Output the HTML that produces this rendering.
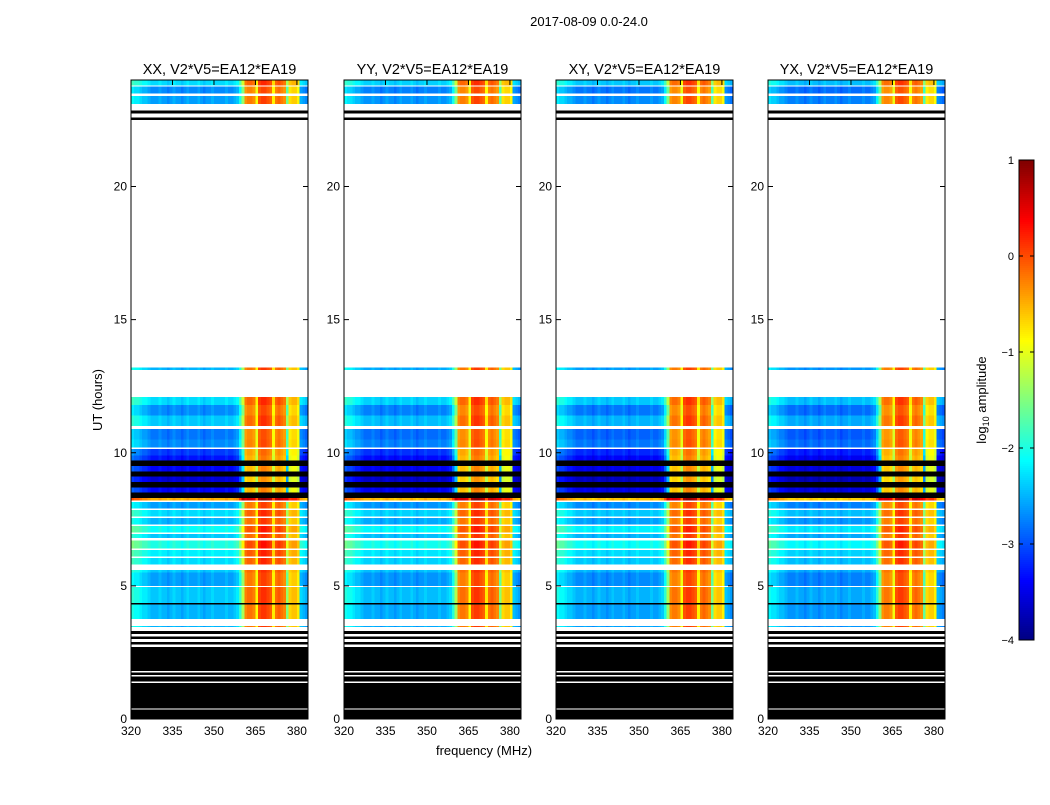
<!DOCTYPE html>
<html><head><meta charset="utf-8">
<style>
body{margin:0;background:#fff;font-family:"Liberation Sans","DejaVu Sans",sans-serif;}
svg text{font-family:"Liberation Sans","DejaVu Sans",sans-serif;}
</style></head>
<body>
<svg id="fig" width="1050" height="800" xmlns="http://www.w3.org/2000/svg">
<rect width="1050" height="800" fill="#fff"/>
<text x="589" y="26" font-size="13" text-anchor="middle">2017-08-09 0.0-24.0</text>
<text x="102" y="400" font-size="13" text-anchor="middle" transform="rotate(-90 102 400)">UT (hours)</text>
<text x="484" y="755" font-size="13" text-anchor="middle">frequency (MHz)</text>
<text x="986" y="400" font-size="13" text-anchor="middle" transform="rotate(-90 986 400)">log<tspan font-size="9" dy="3">10</tspan><tspan dy="-3"> amplitude</tspan></text>
<g id="panels"></g>
<g id="cbar"></g>
</svg>
<script>
const panelTitles=["XX, V2*V5=EA12*EA19","YY, V2*V5=EA12*EA19","XY, V2*V5=EA12*EA19","YX, V2*V5=EA12*EA19"];
const freqStart=320;
const freqProfile=[-2.3,-2.4,-2.4,-2.5,-2.6,-2.6,-2.7,-2.8,
-2.8,-2.8,-2.7,-2.8,-2.8,-2.9,-2.8,-2.7,-2.8,-2.8,-2.9,-2.8,-2.7,-2.8,-2.8,-2.8,-2.7,-2.8,-2.9,-2.8,-2.8,-2.7,-2.8,-2.8,-2.8,-2.8,-2.7,-2.8,-2.8,-2.7,
-2.6,-2.2,-1.6,
-0.4,-0.3,-0.3,-0.4,
-1.0,
-0.1,0.0,0.0,-0.1,-0.2,
-0.9,
-0.3,-0.2,-0.3,-0.4,
-1.8,
-0.8,-0.7,-0.7,-0.9,
-2.7,-2.8,-2.9,-2.9];
const panelOffsets=[0,-0.05,-0.1,-0.15];
const rowStart=[0,0.4,1.4,1.65,1.8,2.8,3.0,3.2,3.45,3.75,4.3,4.35,5.0,5.3,5.5,5.8,6.1,6.4,6.8,7.0,7.3,7.6,7.9,8.2,8.3,8.5,8.7,8.9,9.1,9.3,9.5,9.7,9.9,10.2,10.5,11.0,11.4,11.8,13.1,22.5,22.75,23.1,23.5,23.8];
const rowEnd  =[0.35,1.35,1.6,1.75,2.7,2.9,3.1,3.3,3.5,4.3,4.35,4.95,5.3,5.5,5.6,6.05,6.35,6.7,6.95,7.25,7.55,7.85,8.15,8.3,8.5,8.7,8.9,9.1,9.3,9.5,9.7,9.9,10.15,10.5,10.9,11.4,11.8,12.1,13.2,22.6,22.85,23.4,23.75,24];
const rowKind =['K','K','K','K','K','K','K','K',0.3,0.3,'K',0.4,0.2,0.2,0.4,0.5,0.6,0.8,0.4,0.7,0.3,0.5,0.2,2.3,'K',-0.6,'K',-0.8,'K',-0.6,'K',-0.5,-0.3,0.1,0.0,0.4,0.1,0.5,0.3,'K','K',0.2,0.1,0.5];
const yTicks=[0,5,10,15,20];
const xTicks=[320,335,350,365,380];
const cbTicks=[1,0,-1,-2,-3,-4];

const NS="http://www.w3.org/2000/svg";
function el(tag,attrs,parent){const e=document.createElementNS(NS,tag);for(const k in attrs)e.setAttribute(k,attrs[k]);parent.appendChild(e);return e;}
function jet(v){let t=(v+4)/5;t=Math.max(0,Math.min(1,t));
 const r=Math.max(0,Math.min(1,Math.min(4*t-1.5,-4*t+4.5)));
 const g=Math.max(0,Math.min(1,Math.min(4*t-0.5,-4*t+3.5)));
 const b=Math.max(0,Math.min(1,Math.min(4*t+0.5,-4*t+2.5)));
 return `rgb(${Math.round(r*255)},${Math.round(g*255)},${Math.round(b*255)})`;}
const panelX=[131,344,556,768],PW=177,PT=80,PB=719;
const yScale=h=>PB-(PB-PT)*h/24;
const fMin=320,fMax=384;
function xScale(px,f){return px+PW*(f-fMin)/(fMax-fMin);}
const gp=document.getElementById('panels');
panelX.forEach((px,pi)=>{
 const g=el('g',{},gp);
 
 
 const hm=el('g',{'shape-rendering':'crispEdges'},g);
 
 
 rowStart.forEach((t0,ri)=>{
  const y0=yScale(rowEnd[ri]),y1=yScale(t0);const k=rowKind[ri];
  if(k==='K'){const r=el('rect',{x:px,y:y0,width:PW,height:Math.max(1,y1-y0),fill:'#000'},hm);
   return;}
  freqProfile.forEach((b,ci)=>{
   const f=freqStart+ci;const x0=xScale(px,f),x1=xScale(px,Math.min(f+1,fMax));
   const v=b+(k+panelOffsets[pi])*(b<-1.5?1:0.4);
   const c=el('rect',{x:x0,y:y0,width:x1-x0+0.5,height:Math.max(1,y1-y0),fill:jet(v)},hm);
   
   
  });
 });
 const fr=el('rect',{x:px,y:PT,width:PW,height:PB-PT,fill:'none',stroke:'#000','stroke-width':1},g);
 
 const tt=el('text',{x:px+PW/2,y:74,'font-size':14.5,'text-anchor':'middle'},g);tt.textContent=panelTitles[pi];
 
 yTicks.forEach(v=>{const y=yScale(v);
  el('line',{x1:px,x2:px+5,y1:y,y2:y,stroke:'#000'},g);el('line',{x1:px+PW-5,x2:px+PW,y1:y,y2:y,stroke:'#000'},g);
  const t=el('text',{x:px-4,y:y+4,'font-size':12,'text-anchor':'end'},g);t.textContent=v;
  });
 xTicks.forEach(v=>{const x=xScale(px,v);
  el('line',{x1:x,x2:x,y1:PB,y2:PB-5,stroke:'#000'},g);el('line',{x1:x,x2:x,y1:PT,y2:PT+5,stroke:'#000'},g);
  const t=el('text',{x:x,y:PB+16,'font-size':12,'text-anchor':'middle'},g);t.textContent=v;
  });
});
const cb=document.getElementById('cbar');

const CX=1019,CW=15,CT=160,CB=640;
for(let i=0;i<240;i++){const v=1-5*i/240;el('rect',{x:CX,y:CT+i*2,width:CW,height:2.2,fill:jet(v)},cb);}
el('rect',{x:CX,y:CT,width:CW,height:CB-CT,fill:'none',stroke:'#000'},cb);
cbTicks.forEach(v=>{const y=CT+(1-v)/5*(CB-CT);
 el('line',{x1:CX,x2:CX+4,y1:y,y2:y,stroke:'#000'},cb);el('line',{x1:CX+CW-4,x2:CX+CW,y1:y,y2:y,stroke:'#000'},cb);
 const t=el('text',{x:CX-5,y:y+4,'font-size':11,'text-anchor':'end'},cb);t.textContent=(v<0?'\u2212'+(-v):v);
 });
</script>
</body></html>
